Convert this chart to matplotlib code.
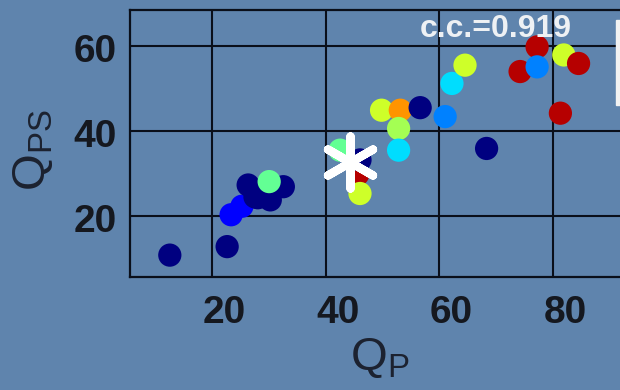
import matplotlib
matplotlib.use('Agg')
import matplotlib.pyplot as plt
from matplotlib.transforms import ScaledTranslation
from matplotlib.patches import Rectangle

plt.rcParams['font.family'] = ['Liberation Sans', 'DejaVu Sans']
plt.rcParams['mathtext.fontset'] = 'custom'
plt.rcParams['mathtext.rm'] = 'Liberation Sans'

# values
qp = [12.5, 22.6, 23.3, 25.2, 27.5, 26.3, 32.5, 30.2, 28.0, 30.0,
      42.5, 45.6, 46.0, 46.0, 49.8, 53.1, 52.8, 52.8, 56.6,
      61.0, 62.2, 64.5, 68.3, 77.2, 74.2, 77.2, 81.9, 84.5, 81.3]
qps = [10.8, 12.8, 20.3, 22.3, 24.5, 27.3, 26.9, 23.8, 24.3, 28.1,
       35.5, 29.8, 33.2, 25.3, 44.9, 44.9, 40.6, 35.5, 45.5,
       43.4, 51.2, 55.5, 35.9, 59.8, 54.0, 55.1, 57.9, 55.9, 44.2]
# colour index on the jet scale
cval = [0.0, 0.0, 0.11, 0.11, 0.0, 0.0, 0.0, 0.0, 0.0, 0.47,
        0.47, 0.95, 0.0, 0.6, 0.6, 0.75, 0.55, 0.34, 0.0,
        0.25, 0.34, 0.6, 0.0, 0.95, 0.95, 0.25, 0.6, 0.95, 0.95]
star_x, star_y = 44.3, 32.8
cc_text = 'c.c.=0.919'

bg = '#5f84ad'
fig = plt.figure(figsize=(6.2, 3.9), dpi=100, facecolor=bg)
ax = fig.add_axes([129.5 / 620, 1 - 277 / 390, 1 - 129.5 / 620, (277 - 9.5) / 390])
ax.set_facecolor(bg)

ax.scatter(qp, qps, c=cval, cmap='jet', vmin=0, vmax=1, s=280, linewidths=0, zorder=3)
ax.scatter([star_x], [star_y], marker=(6, 2, 0), s=1400, color='white',
           linewidths=6, zorder=4)

ax.set_xlim(5.4, 91.8)
ax.set_ylim(5.65, 68.6)
ax.set_xticks([20, 40, 60, 80])
ax.set_yticks([20, 40, 60])
ax.grid(True, color='#0a0f1a', linewidth=1.5, zorder=1)
ax.set_axisbelow(True)
for side in ['left', 'bottom', 'top']:
    ax.spines[side].set_color('#0a0f1a')
    ax.spines[side].set_linewidth(1.6)
ax.spines['right'].set_visible(False)
ax.tick_params(length=0, colors='#15181f', labelsize=28)
ax.tick_params(axis='x', pad=13)
ax.tick_params(axis='y', pad=9)
for lab in ax.get_xticklabels() + ax.get_yticklabels():
    lab.set_fontweight('bold')
for lab in ax.get_xticklabels():
    lab.set_transform(lab.get_transform() + ScaledTranslation(0.12, 0, fig.dpi_scale_trans))
for lab in ax.get_yticklabels():
    lab.set_transform(lab.get_transform() + ScaledTranslation(0, -0.02, fig.dpi_scale_trans))

ax.set_xlabel(r'$\mathrm{Q}_\mathrm{P}$', fontsize=34, color='#1c2230')
ax.set_ylabel(r'$\mathrm{Q}_\mathrm{PS}$', fontsize=34, color='#1c2230')
ax.xaxis.set_label_coords(0.51, -0.22)
ax.yaxis.set_label_coords(-0.152, 0.475)

ax.text(0.592, 0.985, cc_text, transform=ax.transAxes, ha='left', va='top',
        fontsize=23, fontweight='bold', color='#eef1f4', zorder=5)

fig.patches.append(Rectangle((616 / 620, 1 - 105 / 390), 4 / 620, 85 / 390,
                             transform=fig.transFigure, color='#f2f2f2', zorder=5))

fig.savefig('out.png', dpi=100, facecolor=bg)
